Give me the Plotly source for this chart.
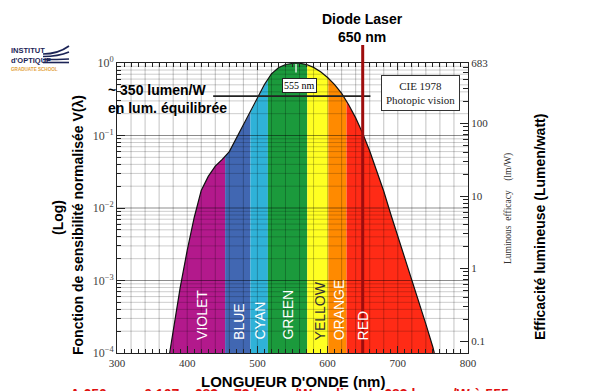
import numpy as np
import plotly.graph_objects as go

# ---------------- data ----------------
WAVELENGTH_NM = [375, 380, 390, 400, 410, 420, 430, 440, 450, 460, 470, 480, 490, 500,
                 510, 520, 530, 540, 550, 555, 560, 570, 580, 590, 600, 610, 620, 630,
                 640, 650, 660, 670, 680, 690, 700, 710, 720, 730, 740, 750, 752]
V_LAMBDA = [1.0e-4, 2.0e-4, 8.0e-4, 2.6e-3, 7.4e-3, 1.75e-2, 2.73e-2, 3.79e-2, 4.68e-2,
            6.0e-2, 9.1e-2, 1.39e-1, 2.08e-1, 3.23e-1, 5.03e-1, 7.10e-1, 8.62e-1, 9.54e-1,
            9.95e-1, 1.0, 9.95e-1, 9.52e-1, 8.70e-1, 7.57e-1, 6.31e-1, 5.03e-1, 3.81e-1,
            2.65e-1, 1.75e-1, 1.07e-1, 6.1e-2, 3.2e-2, 1.7e-2, 8.2e-3, 4.1e-3, 2.1e-3,
            1.05e-3, 5.2e-4, 2.5e-4, 1.2e-4, 1.0e-4]

BAND_NAMES = ["VIOLET", "BLUE", "CYAN", "GREEN", "YELLOW", "ORANGE", "RED"]
BAND_EDGES_NM = [375, 454, 490, 515, 571, 601, 627, 752]
BAND_COLORS = ["#b3198c", "#4167b2", "#2fb2d8", "#1b9a3c", "#ffff22", "#ff8a00", "#ff2b16"]
BAND_LABEL_NM = [421, 473, 503, 543, 589, 616, 651]
BAND_TEXT_COLORS = ["white", "white", "white", "white", "#333333", "white", "white"]

LASER_NM = 650
PEAK_NM = 555
EFFICACY_LINE_V = 0.35
EFFICACY_LINE_NM = [437, 661]
KM = 683

X_TICKS = [300, 400, 500, 600, 700, 800]
Y_TICKS = [1e-4, 1e-3, 1e-2, 1e-1, 1]
Y_TICK_TEXT = ["10<sup>−4</sup>", "10<sup>−3</sup>", "10<sup>−2</sup>", "10<sup>−1</sup>", "10<sup>0</sup>"]
Y2_TICKS = [0.1, 1, 10, 100, 683]
Y2_TICK_TEXT = ["0.1", "1", "10", "100", "683"]

# ---------------- geometry helpers ----------------
W, H = 600, 391
PAGE_OFFSET = 8  # default page body margin
L, R, T, B = 109, 140, 55, 46
PW, PH = W - L - R, H - T - B


def px_x(xp):
    return (xp - PAGE_OFFSET - L) / PW


def px_y(yp):
    return (H - B - (yp - PAGE_OFFSET)) / PH


wl = np.array(WAVELENGTH_NM, float)
lv = np.log10(np.array(V_LAMBDA, float))


def curve_at(x):
    return 10 ** np.interp(x, wl, lv)


Y_MIN = Y_TICKS[0]

fig = go.Figure()

# colored bands under the curve
for name, a, b, col in zip(BAND_NAMES, BAND_EDGES_NM[:-1], BAND_EDGES_NM[1:], BAND_COLORS):
    inner = [x for x in WAVELENGTH_NM if a < x < b]
    xs = [a] + inner + [b]
    ys = [float(curve_at(x)) for x in xs]
    xs = xs + [b, a, a]
    ys = ys + [Y_MIN, Y_MIN, ys[0]]
    fig.add_trace(go.Scatter(x=xs, y=ys, mode="lines", fill="toself", fillcolor=col,
                             line=dict(width=0, color=col), hoverinfo="skip", showlegend=False))

# grid drawn above fills
gx, gy = [], []
for x in range(320, 800, 20):
    gx += [x, x, None]
    gy += [Y_MIN, 1, None]
fig.add_trace(go.Scatter(x=gx, y=gy, mode="lines", line=dict(color="rgba(0,0,0,0.24)", width=1),
                         hoverinfo="skip", showlegend=False))
hx, hy, dx, dy = [], [], [], []
for d in range(-4, 0):
    for k in range(1, 10):
        v = k * 10 ** d
        if k == 1:
            if d == -4:
                continue
            dx += [300, 800, None]
            dy += [v, v, None]
        else:
            hx += [300, 800, None]
            hy += [v, v, None]
fig.add_trace(go.Scatter(x=hx, y=hy, mode="lines", line=dict(color="rgba(0,0,0,0.2)", width=1),
                         hoverinfo="skip", showlegend=False))
fig.add_trace(go.Scatter(x=dx, y=dy, mode="lines", line=dict(color="rgba(0,0,0,0.45)", width=1),
                         hoverinfo="skip", showlegend=False))

# curve outline
fig.add_trace(go.Scatter(x=WAVELENGTH_NM, y=V_LAMBDA, mode="lines",
                         line=dict(color="#111111", width=1.2), hoverinfo="skip", showlegend=False))

# efficacy reference line
fig.add_trace(go.Scatter(x=EFFICACY_LINE_NM, y=[EFFICACY_LINE_V, EFFICACY_LINE_V], mode="lines",
                         line=dict(color="#222222", width=1.8), hoverinfo="skip", showlegend=False))

# peak white tick
fig.add_trace(go.Scatter(x=[PEAK_NM, PEAK_NM], y=[0.97, 0.74], mode="lines",
                         line=dict(color="rgba(255,255,255,0.85)", width=1.5),
                         hoverinfo="skip", showlegend=False))

# invisible trace for right axis
fig.add_trace(go.Scatter(x=[PEAK_NM], y=[KM], yaxis="y2", mode="markers",
                         marker=dict(opacity=0), hoverinfo="skip", showlegend=False))

# laser line
fig.add_shape(type="line", xref="x", yref="paper", x0=LASER_NM, x1=LASER_NM,
              y0=0, y1=px_y(45), line=dict(color="#9e0d0d", width=3), layer="above")

serif = "Liberation Serif, Times New Roman, serif"
sans = "Liberation Sans, Arial, sans-serif"

ann = []


def note(text, x, y, xref="paper", size=14, family=sans, color="black", xanchor="center",
         yanchor="middle", **kw):
    d = dict(text=text, x=x, y=y, xref=xref, yref="paper", showarrow=False,
             xanchor=xanchor, yanchor=yanchor, font=dict(family=family, size=size, color=color))
    d.update(kw)
    ann.append(d)


# band labels
for name, x, tc in zip(BAND_NAMES, BAND_LABEL_NM, BAND_TEXT_COLORS):
    note(name, x, px_y(342), xref="x", color=tc, yanchor="bottom", textangle=-90)

note("<b>Diode Laser</b><br><b>650 nm</b>", LASER_NM, px_y(28), xref="x", size=14, align="center")
note("<b>~ 350 lumen/W</b><br><b>en lum. équilibrée</b>", px_x(106), px_y(99), xanchor="left", align="left")
note("555 nm", px_x(299), px_y(85), size=10, family=serif, bgcolor="white", bordercolor="#222",
     borderwidth=1, borderpad=1)
note("CIE 1978<br>Photopic vision", px_x(420), px_y(93), size=11, family=serif, color="#222",
     bgcolor="white", bordercolor="#333", borderwidth=1, borderpad=4)
note("<b>Fonction de sensibilité normalisée V(λ)</b>", px_x(78), px_y(225), textangle=-90)
note("<b>(Log)</b>", px_x(58), px_y(218), textangle=-90)
note("Luminous  efficacy    (lm/W)", px_x(508), px_y(208), size=9.5, family=serif, color="#333",
     textangle=-90)
note("<b>Efficacité lumineuse (Lumen/watt)</b>", px_x(540), px_y(227), textangle=-90)
note("<b>LONGUEUR D'ONDE (nm)</b>", px_x(293), px_y(381), size=15)
note("<b>A 650 nm : 0,107 x 683 = 73 lumen/W au lieu de 683 lumen/W à 555 nm</b>",
     px_x(302), px_y(394), size=14, color="#e01010")

# logo
note("<b>INSTITUT</b>", px_x(9), px_y(51), size=7.5, color="#1c2456", xanchor="left")
note("<b>d'OPTIQUE</b>", px_x(9), px_y(60), size=7.5, color="#1c2456", xanchor="left")
note("<b>GRADUATE SCHOOL</b>", px_x(9), px_y(69), size=4.6, color="#e3a13a", xanchor="left")

for yp0, yp1 in [(54, 46), (56.5, 52), (59.5, 59), (62.5, 62.5)]:
    fig.add_shape(type="path", xref="paper", yref="paper",
                  path=f"M {px_x(43)} {px_y(yp0)} Q {px_x(58)} {px_y(yp0)} {px_x(69)} {px_y(yp1)}",
                  line=dict(color="#1c2456", width=1.6))

fig.update_layout(
    width=W, height=H, margin=dict(l=L, r=R, t=T, b=B),
    paper_bgcolor="white", plot_bgcolor="white",
    annotations=ann,
    xaxis=dict(range=[300, 800], tickvals=X_TICKS, ticks="inside", ticklen=7, tickcolor="#222",
               showline=True, linecolor="#222", linewidth=1, mirror="ticks", showgrid=False,
               zeroline=False, tickfont=dict(family=serif, size=11, color="#333"),
               minor=dict(dtick=10, tick0=300, ticks="inside", ticklen=4, tickcolor="#222", showgrid=False)),
    yaxis=dict(type="log", range=[-4, 0], tickvals=Y_TICKS, ticktext=Y_TICK_TEXT, ticks="inside",
               ticklen=8, tickcolor="#222", showline=True, linecolor="#222", linewidth=1,
               showgrid=False, zeroline=False, tickfont=dict(family=serif, size=12, color="#444"),
               minor=dict(tickvals=[k * 10 ** d for d in range(-4, 0) for k in range(2, 10)],
                          ticks="inside", ticklen=4, tickcolor="#222", showgrid=False)),
    yaxis2=dict(type="log", overlaying="y", side="right",
                range=[np.log10(KM * Y_MIN), np.log10(KM)], tickvals=Y2_TICKS, ticktext=Y2_TICK_TEXT,
                ticks="inside", ticklen=8, tickcolor="#222", showline=True, linecolor="#222",
                linewidth=1, showgrid=False, zeroline=False,
                tickfont=dict(family=serif, size=11, color="#333"),
                minor=dict(tickvals=[k * 10 ** d for d in range(-1, 3) for k in range(2, 10)
                                     if KM * Y_MIN < k * 10 ** d < KM],
                           ticks="inside", ticklen=5, tickcolor="#222", showgrid=False)),
)

fig.write_html("out.html")
